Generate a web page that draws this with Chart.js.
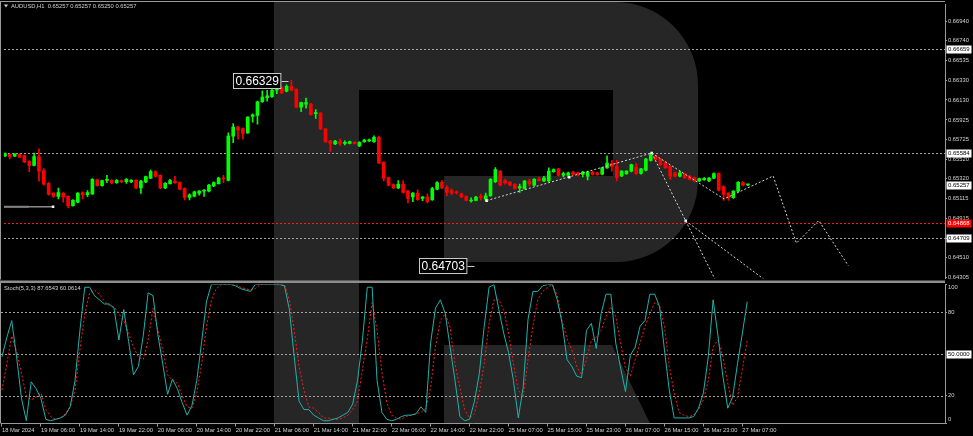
<!DOCTYPE html>
<html>
<head>
<meta charset="utf-8">
<script src="https://cdn.jsdelivr.net/npm/chart.js@4.4.1/dist/chart.umd.min.js"></script>
<style>
  html, body { margin: 0; padding: 0; background: #000; }
  #wrap { position: relative; width: 973px; height: 436px; overflow: hidden; }
  #bg { position: absolute; left: 0; top: 0; }
  #priceBox { position: absolute; left: 0; top: 0; width: 973px; height: 283px; }
  #stochBox { position: absolute; left: 0; top: 283px; width: 973px; height: 153px; }
</style>
</head>
<body>
<div id="wrap">
  <canvas id="bg" width="973" height="436"></canvas>
  <div id="priceBox"><canvas id="priceChart"></canvas></div>
  <div id="stochBox"><canvas id="stochChart"></canvas></div>
</div>
<script>
// AUDUSD H1, one entry per hourly bar, 18 Mar 22:00 .. 27 Mar 08:00
const openPrices = [
  0.65556, 0.65570, 0.65551, 0.65570, 0.65559, 0.65499, 0.65458, 0.65549, 0.65404, 0.65273,
  0.65172, 0.65138, 0.65172, 0.65138, 0.65044, 0.65078, 0.65178, 0.65155, 0.65165, 0.65310,
  0.65250, 0.65304, 0.65304, 0.65280, 0.65300, 0.65290, 0.65287, 0.65304, 0.65226, 0.65287,
  0.65327, 0.65394, 0.65354, 0.65226, 0.65270, 0.65297, 0.65280, 0.65219, 0.65128, 0.65141,
  0.65169, 0.65192, 0.65192, 0.65246, 0.65270, 0.65327, 0.65304, 0.65758, 0.65852, 0.65836,
  0.65792, 0.65960, 0.65970, 0.66112, 0.66153, 0.66163, 0.66230, 0.66254, 0.66220, 0.66270,
  0.66240, 0.66055, 0.66088, 0.66088, 0.65988, 0.65994, 0.65832, 0.65708, 0.65677, 0.65701,
  0.65684, 0.65684, 0.65694, 0.65657, 0.65701, 0.65708, 0.65701, 0.65745, 0.65489, 0.65331,
  0.65260, 0.65226, 0.65263, 0.65193, 0.65132, 0.65172, 0.65118, 0.65132, 0.65105, 0.65213,
  0.65283, 0.65233, 0.65199, 0.65186, 0.65166, 0.65138, 0.65091, 0.65098, 0.65138, 0.65111,
  0.65145, 0.65290, 0.65398, 0.65300, 0.65283, 0.65263, 0.65226, 0.65219, 0.65297, 0.65253,
  0.65317, 0.65297, 0.65297, 0.65392, 0.65421, 0.65354, 0.65354, 0.65388, 0.65381, 0.65364,
  0.65347, 0.65388, 0.65381, 0.65367, 0.65432, 0.65475, 0.65448, 0.65348, 0.65371, 0.65398,
  0.65438, 0.65374, 0.65408, 0.65509, 0.65556, 0.65523, 0.65482, 0.65448, 0.65381, 0.65347,
  0.65371, 0.65348, 0.65331, 0.65297, 0.65310, 0.65297, 0.65327, 0.65374, 0.65239, 0.65172,
  0.65125, 0.65192, 0.65280, 0.65257
];
const closePrices = [
  0.65580, 0.65546, 0.65573, 0.65543, 0.65493, 0.65458, 0.65549, 0.65397, 0.65263, 0.65162,
  0.65138, 0.65178, 0.65132, 0.65044, 0.65098, 0.65172, 0.65155, 0.65178, 0.65314, 0.65250,
  0.65300, 0.65314, 0.65277, 0.65304, 0.65287, 0.65314, 0.65304, 0.65226, 0.65297, 0.65341,
  0.65394, 0.65344, 0.65226, 0.65273, 0.65300, 0.65280, 0.65213, 0.65128, 0.65155, 0.65186,
  0.65192, 0.65202, 0.65256, 0.65280, 0.65327, 0.65317, 0.65758, 0.65852, 0.65819, 0.65786,
  0.65953, 0.65978, 0.66112, 0.66160, 0.66173, 0.66230, 0.66240, 0.66203, 0.66270, 0.66230,
  0.66055, 0.66102, 0.66102, 0.65980, 0.66001, 0.65832, 0.65701, 0.65684, 0.65708, 0.65684,
  0.65694, 0.65701, 0.65684, 0.65694, 0.65718, 0.65721, 0.65745, 0.65483, 0.65324, 0.65253,
  0.65226, 0.65263, 0.65179, 0.65118, 0.65172, 0.65105, 0.65132, 0.65088, 0.65219, 0.65280,
  0.65226, 0.65179, 0.65172, 0.65176, 0.65132, 0.65098, 0.65101, 0.65132, 0.65125, 0.65145,
  0.65314, 0.65415, 0.65253, 0.65277, 0.65253, 0.65219, 0.65240, 0.65297, 0.65266, 0.65314,
  0.65300, 0.65327, 0.65398, 0.65415, 0.65354, 0.65374, 0.65381, 0.65364, 0.65357, 0.65388,
  0.65388, 0.65364, 0.65361, 0.65432, 0.65482, 0.65448, 0.65331, 0.65398, 0.65398, 0.65465,
  0.65371, 0.65421, 0.65523, 0.65567, 0.65516, 0.65465, 0.65432, 0.65347, 0.65347, 0.65381,
  0.65331, 0.65314, 0.65297, 0.65321, 0.65324, 0.65327, 0.65374, 0.65202, 0.65158, 0.65125,
  0.65192, 0.65283, 0.65253, 0.65257
];
const highPrices = [
  0.65587, 0.65577, 0.65580, 0.65577, 0.65566, 0.65506, 0.65583, 0.65627, 0.65424, 0.65280,
  0.65179, 0.65223, 0.65179, 0.65145, 0.65105, 0.65179, 0.65185, 0.65198, 0.65321, 0.65317,
  0.65307, 0.65354, 0.65311, 0.65311, 0.65307, 0.65321, 0.65311, 0.65311, 0.65304, 0.65348,
  0.65408, 0.65401, 0.65361, 0.65280, 0.65314, 0.65344, 0.65287, 0.65226, 0.65165, 0.65193,
  0.65199, 0.65209, 0.65263, 0.65287, 0.65334, 0.65354, 0.65791, 0.65886, 0.65859, 0.65843,
  0.65960, 0.65988, 0.66119, 0.66223, 0.66230, 0.66250, 0.66284, 0.66264, 0.66287, 0.66329,
  0.66247, 0.66109, 0.66149, 0.66095, 0.66031, 0.66001, 0.65839, 0.65715, 0.65715, 0.65728,
  0.65711, 0.65708, 0.65701, 0.65701, 0.65725, 0.65728, 0.65762, 0.65758, 0.65496, 0.65338,
  0.65267, 0.65300, 0.65300, 0.65200, 0.65179, 0.65206, 0.65139, 0.65166, 0.65233, 0.65290,
  0.65300, 0.65250, 0.65216, 0.65196, 0.65173, 0.65145, 0.65125, 0.65139, 0.65162, 0.65172,
  0.65321, 0.65435, 0.65405, 0.65317, 0.65290, 0.65270, 0.65266, 0.65304, 0.65317, 0.65321,
  0.65337, 0.65344, 0.65432, 0.65422, 0.65428, 0.65388, 0.65388, 0.65395, 0.65388, 0.65395,
  0.65398, 0.65395, 0.65388, 0.65438, 0.65556, 0.65509, 0.65509, 0.65405, 0.65405, 0.65472,
  0.65475, 0.65428, 0.65530, 0.65584, 0.65563, 0.65530, 0.65499, 0.65455, 0.65388, 0.65398,
  0.65378, 0.65355, 0.65338, 0.65328, 0.65331, 0.65334, 0.65381, 0.65381, 0.65246, 0.65179,
  0.65199, 0.65290, 0.65290, 0.65257
];
const lowPrices = [
  0.65546, 0.65523, 0.65546, 0.65536, 0.65486, 0.65392, 0.65451, 0.65294, 0.65253, 0.65152,
  0.65128, 0.65112, 0.65078, 0.65021, 0.65037, 0.65071, 0.65112, 0.65135, 0.65158, 0.65243,
  0.65243, 0.65280, 0.65270, 0.65273, 0.65280, 0.65273, 0.65280, 0.65219, 0.65169, 0.65280,
  0.65320, 0.65337, 0.65219, 0.65219, 0.65263, 0.65273, 0.65206, 0.65101, 0.65101, 0.65134,
  0.65152, 0.65138, 0.65185, 0.65239, 0.65263, 0.65280, 0.65297, 0.65690, 0.65728, 0.65728,
  0.65785, 0.65903, 0.65880, 0.66105, 0.66119, 0.66156, 0.66196, 0.66196, 0.66213, 0.66223,
  0.66048, 0.66011, 0.66045, 0.65973, 0.65940, 0.65825, 0.65694, 0.65600, 0.65670, 0.65660,
  0.65667, 0.65677, 0.65677, 0.65650, 0.65694, 0.65701, 0.65694, 0.65476, 0.65297, 0.65246,
  0.65219, 0.65219, 0.65172, 0.65071, 0.65084, 0.65098, 0.65095, 0.65071, 0.65098, 0.65206,
  0.65219, 0.65145, 0.65155, 0.65162, 0.65125, 0.65091, 0.65078, 0.65091, 0.65101, 0.65095,
  0.65138, 0.65280, 0.65246, 0.65263, 0.65246, 0.65212, 0.65179, 0.65212, 0.65243, 0.65246,
  0.65294, 0.65290, 0.65290, 0.65385, 0.65347, 0.65340, 0.65340, 0.65357, 0.65350, 0.65340,
  0.65307, 0.65357, 0.65354, 0.65360, 0.65425, 0.65398, 0.65297, 0.65341, 0.65364, 0.65391,
  0.65364, 0.65367, 0.65401, 0.65502, 0.65509, 0.65458, 0.65425, 0.65314, 0.65340, 0.65340,
  0.65324, 0.65307, 0.65290, 0.65290, 0.65303, 0.65290, 0.65320, 0.65195, 0.65098, 0.65098,
  0.65118, 0.65185, 0.65246, 0.65250
];

// Stochastic(5,3,3): main line and signal line
const stochMain = [
  48, 62, 74, 48, 18, 2, 30, 25, 18, 3,
  2, 3, 4, 6, 12, 31, 67, 98, 98, 92,
  89, 86, 86, 83, 60, 82, 59, 35, 41, 63,
  94, 92, 64, 43, 21, 32, 25, 15, 6, 13,
  31, 59, 88, 100, 100, 100, 100, 100, 99, 97,
  96, 95, 100, 100, 100, 100, 100, 100, 99, 82,
  48, 16, 10, 10, 6, 4, 2, 2, 3, 4,
  6, 8, 14, 31, 60, 98, 98, 31, 8, 3,
  2, 3, 5, 6, 6, 7, 12, 8, 58, 83,
  89, 79, 55, 31, 5, 2, 3, 16, 36, 70,
  98, 100, 82, 65, 51, 31, 4, 26, 75, 95,
  95, 99, 100, 100, 89, 72, 46, 41, 34, 33,
  67, 72, 54, 79, 93, 93, 58, 40, 23, 49,
  55, 70, 74, 93, 93, 84, 53, 24, 4, 4,
  4, 4, 5, 11, 22, 48, 89, 63, 34, 11,
  19, 43, 65, 87.6543
];
const stochSignal = [
  24, 43, 63, 52, 36, 20, 17, 19, 22, 10,
  5, 3, 4, 7, 12, 24, 53, 79, 94, 96,
  93, 88, 85, 84, 79, 74, 65, 55, 48, 46,
  60, 83, 67, 53, 35, 31, 29, 20, 12, 11,
  22, 43, 70, 89, 97, 100, 100, 100, 100, 98,
  97, 96, 97, 100, 100, 100, 100, 100, 100, 89,
  67, 41, 24, 12, 11, 8, 4, 4, 3, 3,
  4, 6, 10, 16, 39, 61, 87, 67, 37, 15,
  6, 4, 3, 5, 6, 7, 8, 11, 26, 55,
  74, 79, 69, 43, 26, 10, 4, 7, 22, 43,
  72, 89, 89, 82, 65, 43, 24, 19, 46, 70,
  89, 95, 98, 100, 92, 74, 61, 53, 41, 35,
  46, 60, 62, 67, 77, 84, 77, 58, 40, 34,
  46, 58, 70, 79, 87, 85, 70, 41, 22, 8,
  6, 5, 6, 10, 17, 31, 55, 60, 48, 29,
  13, 19, 39, 60.0614
];

const xTickIndex = [0, 8, 16, 24, 32, 40, 48, 56, 64, 72, 80, 88, 96, 104, 112, 120, 128, 136, 144, 152];
const xTickText = ['18 Mar 2024', '19 Mar 06:00', '19 Mar 14:00', '19 Mar 22:00', '20 Mar 06:00',
  '20 Mar 14:00', '20 Mar 22:00', '21 Mar 06:00', '21 Mar 14:00', '21 Mar 22:00', '22 Mar 06:00',
  '22 Mar 14:00', '22 Mar 22:00', '25 Mar 07:00', '25 Mar 15:00', '25 Mar 23:00', '26 Mar 07:00',
  '26 Mar 15:00', '26 Mar 23:00', '27 Mar 07:00'];
const priceTicks = [0.66940, 0.66740, 0.66535, 0.66330, 0.66130, 0.65925, 0.65725, 0.65520,
  0.65320, 0.65115, 0.64915, 0.64710, 0.64510, 0.64305];
const stochTicks = [100, 80, 20, 0];
const stochLevels = [80, 50, 20];

// horizontal levels and the analyst's drawings, as [bar index, price]
const grayLevels = [0.66659, 0.65584, 0.64709];
const redLevel = 0.64868;
const lastPrice = 0.65257;
const trendUp = [[99.2, 0.65095], [133.2, 0.65584]];
const zigzagPath = [[133.2, 0.65584], [148.1, 0.65112], [158.2, 0.65348], [163.0, 0.64658], [167.6, 0.64890], [173.7, 0.64425]];
const steepLine = [[133.2, 0.65584], [140.2, 0.64887], [150.0, 0.63911]];
const fanLine = [[140.2, 0.64887], [156.0, 0.64298], [162.0, 0.64074]];
const anchorPoints = [[99.2, 0.65095], [116.2, 0.65335], [133.2, 0.65584], [140.2, 0.64887], [9.9, 0.65031]];
const markerLine = [[-0.2, 0.65031], [9.9, 0.65031]];
const markerLineThick = [[-0.2, 0.65031], [4.9, 0.65031]];
const priceNotes = [
  { text: '0.66329', x: 58.4, y: 0.66329 },
  { text: '0.64703', x: 96.7, y: 0.64425 }
];

const X_MIN = -0.2, X_MAX = 193.6;
const FONT = 'Liberation Sans';
const textColor = '#d2d2d2';
const frameColor = '#9a9a9a';

const bullColor = '#00ff00';
const bearColor = '#ff0000';
const candleColors = closePrices.map((c, i) => c >= openPrices[i] ? bullColor : bearColor);
const wickData = lowPrices.map((l, i) => ({ x: i, y: [l, highPrices[i]] }));
const bodyData = openPrices.map((o, i) => ({ x: i, y: [o, closePrices[i]] }));
const asPoints = list => list.map(([x, y]) => ({ x, y }));

function drawWatermark() {
  const c = document.getElementById('bg').getContext('2d');
  c.fillStyle = '#262626';
  c.fillRect(274, 2, 85, 421.5);
  c.beginPath();
  c.moveTo(359, 2);
  c.lineTo(615, 2);
  c.arcTo(698, 2, 698, 85, 83);
  c.lineTo(698, 180);
  c.arcTo(698, 262, 615, 262, 82);
  c.lineTo(444, 262);
  c.lineTo(444, 176);
  c.lineTo(613, 176);
  c.lineTo(613, 90);
  c.lineTo(359, 90);
  c.closePath();
  c.fill();
  c.beginPath();
  c.moveTo(444, 345);
  c.lineTo(612, 345);
  c.lineTo(650, 423.5);
  c.lineTo(444, 423.5);
  c.closePath();
  c.fill();
}
drawWatermark();

function drawTag(ctx, x, yPix, text, bg, fg) {
  ctx.save();
  ctx.setLineDash([]);
  ctx.fillStyle = bg;
  ctx.fillRect(x, Math.round(yPix) - 3.5, 25, 8);
  ctx.fillStyle = fg;
  ctx.font = '6px ' + FONT;
  ctx.textBaseline = 'middle';
  ctx.textAlign = 'left';
  ctx.fillText(text, x + 1.5, Math.round(yPix) + 0.5);
  ctx.restore();
}

function hLine(ctx, a, yPix, color) {
  const py = Math.round(yPix) + 0.5;
  ctx.strokeStyle = color;
  ctx.beginPath();
  ctx.moveTo(a.left, py);
  ctx.lineTo(a.right, py);
  ctx.stroke();
}

const pricePanelDecor = {
  id: 'pricePanelDecor',
  beforeDatasetsDraw(chart) {
    const { ctx, chartArea: a, scales: { y } } = chart;
    ctx.save();
    ctx.lineWidth = 1;
    ctx.setLineDash([2, 2]);
    grayLevels.forEach(v => hLine(ctx, a, y.getPixelForValue(v), '#a4a4a4'));
    hLine(ctx, a, y.getPixelForValue(redLevel), '#ff1a1a');
    ctx.restore();
  },
  afterDraw(chart) {
    const { ctx, chartArea: a, scales: { x, y } } = chart;
    ctx.save();
    // frame and panel separator
    ctx.fillStyle = frameColor;
    ctx.fillRect(0, 1, a.right, 1);
    ctx.fillRect(0, 1, 1, a.bottom);
    ctx.fillStyle = '#8e8e8e';
    ctx.fillRect(0, 280.5, a.right, 3);

    // big price notes
    ctx.font = '12px ' + FONT;
    ctx.textBaseline = 'middle';
    priceNotes.forEach(n => {
      const px = x.getPixelForValue(n.x);
      const py = Math.round(y.getPixelForValue(n.y));
      const w = ctx.measureText(n.text).width + 4;
      const left = Math.round(px - 8 - w);
      ctx.fillStyle = '#000';
      ctx.fillRect(left, py - 8, w, 16);
      ctx.strokeStyle = '#c8c8c8';
      ctx.lineWidth = 1;
      ctx.strokeRect(left + 0.5, py - 7.5, w, 15);
      ctx.fillStyle = '#ffffff';
      ctx.fillText(n.text, left + 2.5, py + 0.5);
      ctx.beginPath();
      ctx.moveTo(left + w + 1, py + 0.5);
      ctx.lineTo(px, py + 0.5);
      ctx.stroke();
    });

    // axis tags
    grayLevels.forEach(v => drawTag(ctx, a.right + 1.5, y.getPixelForValue(v), v.toFixed(5), '#ffffff', '#000000'));
    drawTag(ctx, a.right + 1.5, y.getPixelForValue(lastPrice), lastPrice.toFixed(5), '#ffffff', '#000000');
    drawTag(ctx, a.right + 1.5, y.getPixelForValue(redLevel), redLevel.toFixed(5), '#ff0000', '#ffffff');

    // header
    ctx.fillStyle = textColor;
    ctx.beginPath();
    ctx.moveTo(4, 4.5);
    ctx.lineTo(8, 4.5);
    ctx.lineTo(6, 7.5);
    ctx.closePath();
    ctx.fill();
    ctx.font = '5.8px ' + FONT;
    ctx.textBaseline = 'middle';
    ctx.fillText('AUDUSD,H1  0.65257 0.65257 0.65250 0.65257', 11, 6.5);
    ctx.restore();
  }
};

const stochPanelDecor = {
  id: 'stochPanelDecor',
  beforeDatasetsDraw(chart) {
    const { ctx, chartArea: a, scales: { y } } = chart;
    ctx.save();
    ctx.lineWidth = 1;
    ctx.setLineDash([2, 2]);
    stochLevels.forEach(v => hLine(ctx, a, y.getPixelForValue(v), '#a4a4a4'));
    ctx.restore();
  },
  afterDraw(chart) {
    const { ctx, chartArea: a, scales: { y } } = chart;
    ctx.save();
    ctx.fillStyle = frameColor;
    ctx.fillRect(0, 0, 1, a.bottom);
    ctx.fillStyle = textColor;
    ctx.font = '5.8px ' + FONT;
    ctx.textBaseline = 'middle';
    stochTicks.forEach(v => {
      const py = Math.min(Math.max(y.getPixelForValue(v), a.top + 3), a.bottom - 4);
      ctx.fillText(String(v), a.right + 3, py);
    });
    drawTag(ctx, a.right + 1.5, y.getPixelForValue(50), '50.0000', '#ffffff', '#000000');
    ctx.fillStyle = textColor;
    ctx.fillText('Stoch(5,3,3) ' + stochMain[stochMain.length - 1].toFixed(4) + ' ' +
      stochSignal[stochSignal.length - 1].toFixed(4), 4, a.top + 4);
    ctx.restore();
  }
};

const dotted = (data, extra) => Object.assign({
  type: 'line',
  data: asPoints(data),
  borderColor: '#d4d4d4',
  borderWidth: 1,
  borderDash: [2, 2],
  pointRadius: 0,
  order: 0
}, extra || {});

const priceChart = new Chart(document.getElementById('priceChart'), {
  type: 'bar',
  data: {
    datasets: [
      dotted(trendUp),
      dotted(zigzagPath),
      dotted(steepLine),
      dotted(fanLine),
      { type: 'line', data: asPoints(markerLineThick), borderColor: '#808080', borderWidth: 2, pointRadius: 0, order: 0 },
      { type: 'line', data: asPoints(markerLine), borderColor: '#d0d0d0', borderWidth: 1, pointRadius: 0, order: 0 },
      {
        type: 'scatter', data: asPoints(anchorPoints), showLine: false,
        pointStyle: 'rect', pointRadius: 1.8, pointBackgroundColor: '#ffffff', pointBorderWidth: 0, order: 0
      },
      { data: wickData, backgroundColor: candleColors, barThickness: 1, grouped: false, order: 2 },
      { data: bodyData, backgroundColor: candleColors, barThickness: 3, minBarLength: 1, grouped: false, order: 1 }
    ]
  },
  options: {
    responsive: true,
    maintainAspectRatio: false,
    animation: false,
    layout: { padding: { left: 1, top: 2, bottom: 2, right: 0 } },
    plugins: { legend: { display: false }, tooltip: { enabled: false } },
    scales: {
      x: { type: 'linear', min: X_MIN, max: X_MAX, offset: false, display: false },
      y: {
        position: 'right',
        min: 0.64294,
        max: 0.67112,
        afterBuildTicks: s => { s.ticks = priceTicks.map(v => ({ value: v })); },
        afterFit: s => { s.width = 28; },
        ticks: {
          autoSkip: false,
          color: textColor,
          padding: 1,
          font: { family: FONT, size: 5.8 },
          callback: v => Number(v).toFixed(5)
        },
        grid: { drawOnChartArea: false, tickLength: 2, color: frameColor },
        border: { display: true, color: frameColor }
      }
    }
  },
  plugins: [pricePanelDecor]
});

const stochChart = new Chart(document.getElementById('stochChart'), {
  type: 'line',
  data: {
    datasets: [
      {
        data: stochSignal.map((v, i) => ({ x: i, y: v })),
        borderColor: '#ff1a1a', borderWidth: 1, borderDash: [2, 2], pointRadius: 0, order: 1
      },
      {
        data: stochMain.map((v, i) => ({ x: i, y: v })),
        borderColor: '#20b2aa', borderWidth: 1, pointRadius: 0, order: 0
      }
    ]
  },
  options: {
    responsive: true,
    maintainAspectRatio: false,
    animation: false,
    layout: { padding: { left: 1, top: 1.5, bottom: 0, right: 0 } },
    plugins: { legend: { display: false }, tooltip: { enabled: false } },
    scales: {
      x: {
        type: 'linear', min: X_MIN, max: X_MAX, offset: false,
        afterBuildTicks: s => { s.ticks = xTickIndex.map(v => ({ value: v })); },
        afterFit: s => { s.height = 12.5; },
        ticks: {
          autoSkip: false, maxRotation: 0, minRotation: 0, align: 'start', padding: 0,
          color: textColor,
          font: { family: FONT, size: 5.8 },
          callback: v => xTickText[xTickIndex.indexOf(v)]
        },
        grid: { drawOnChartArea: false, tickLength: 3, color: frameColor },
        border: { display: true, color: frameColor }
      },
      y: {
        position: 'right',
        min: 0,
        max: 100,
        afterBuildTicks: s => { s.ticks = stochTicks.map(v => ({ value: v })); },
        afterFit: s => { s.width = 28; },
        ticks: { display: false },
        grid: { drawOnChartArea: false, tickLength: 2, color: frameColor },
        border: { display: true, color: frameColor }
      }
    }
  },
  plugins: [stochPanelDecor]
});
</script>
</body>
</html>
